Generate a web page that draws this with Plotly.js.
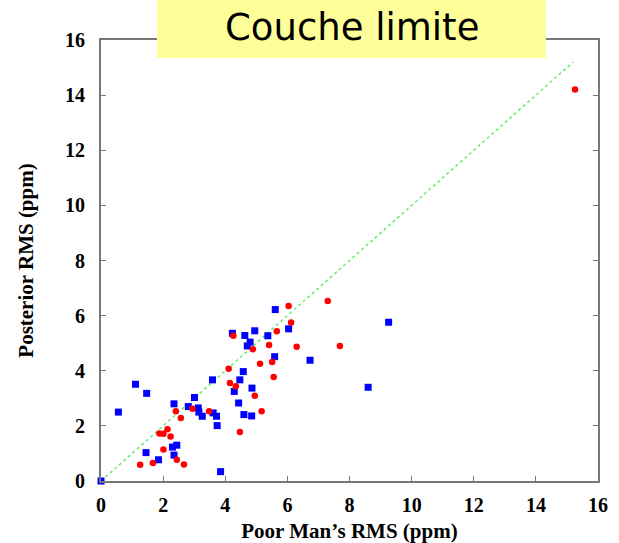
<!DOCTYPE html>
<html>
<head>
<meta charset="utf-8">
<script src="https://cdn.plot.ly/plotly-3.0.1.min.js"></script>
<style>html,body{margin:0;padding:0;background:#fff;}</style>
</head>
<body>
<div id="chart" style="width:619px;height:543px;"></div>
<script>
const blueX = [0, 0.56, 1.11, 1.47, 1.45, 1.85, 2.35, 2.30, 2.44, 2.35, 2.81, 3.01, 3.13, 3.15, 3.26, 3.59, 3.61, 3.72, 3.74, 3.85, 4.23, 4.29, 4.47, 4.58, 4.63, 4.43, 4.60, 4.85, 4.86, 4.71, 4.80, 4.95, 5.37, 5.59, 5.61, 6.04, 6.73, 8.60, 9.26];
const blueY = [0, 2.50, 3.51, 3.18, 1.03, 0.77, 2.80, 1.23, 1.30, 0.94, 2.70, 3.03, 2.65, 2.50, 2.35, 3.67, 2.47, 2.35, 2.01, 0.34, 5.36, 3.25, 3.67, 3.97, 5.28, 2.83, 2.41, 2.36, 3.37, 4.90, 5.04, 5.45, 5.27, 4.51, 6.22, 5.52, 4.38, 3.40, 5.76];
const redX = [1.26, 1.67, 1.88, 2.01, 2.14, 2.24, 2.01, 2.44, 2.67, 2.41, 2.57, 2.94, 3.48, 4.11, 4.15, 4.34, 4.47, 4.26, 4.95, 4.89, 5.12, 5.17, 5.41, 5.51, 5.56, 5.66, 6.04, 6.12, 6.30, 7.30, 7.69, 15.26];
const redY = [0.59, 0.65, 1.72, 1.71, 1.88, 1.61, 1.14, 0.77, 0.60, 2.53, 2.29, 2.62, 2.53, 4.07, 3.56, 3.44, 1.78, 5.27, 3.09, 4.78, 4.25, 2.53, 4.93, 4.32, 3.77, 5.43, 6.35, 5.75, 4.87, 6.53, 4.90, 14.20];
const diagX = [0, 15.2];
const diagY = [0, 15.2];
const tickVals = [0, 2, 4, 6, 8, 10, 12, 14, 16];
const chartTitle = "Couche limite";
const xTitle = "Poor Man\u2019s RMS (ppm)";
const yTitle = "Posterior RMS (ppm)";

const SERIF = "Liberation Serif";

function makeAxis(titleText, standoff, labelStandoff) {
  return {
    range: [0, 16], tickmode: "array", tickvals: tickVals, ticktext: tickVals.map(String),
    showgrid: false, zeroline: false, showline: true, linecolor: "#777", linewidth: 2,
    mirror: "ticks", ticks: "inside", ticklen: 5, tickcolor: "#777", tickwidth: 1,
    ticklabelstandoff: labelStandoff,
    tickfont: {family: SERIF, size: 20, color: "#000", weight: 700},
    title: {text: titleText, font: {family: SERIF, size: 21, color: "#000", weight: 700}, standoff: standoff}
  };
}

const traces = [
  {x: diagX, y: diagY, mode: "lines", line: {color: "rgb(100,235,100)", width: 1.5, dash: "dot"}, hoverinfo: "skip"},
  {x: blueX, y: blueY, mode: "markers", cliponaxis: false, marker: {symbol: "square", size: 7, color: "#0000ff"}},
  {x: redX, y: redY, mode: "markers", cliponaxis: false, marker: {symbol: "circle", size: 6.5, color: "#ff0000"}}
];

const layout = {
  width: 619, height: 543, showlegend: false,
  paper_bgcolor: "#fff", plot_bgcolor: "#fff",
  font: {family: SERIF},
  margin: {l: 101, r: 21, t: 40, b: 62},
  xaxis: makeAxis(xTitle, 8, 5),
  yaxis: makeAxis(yTitle, 26, 10),
  shapes: [{
    type: "rect", xref: "paper", yref: "paper", layer: "above",
    x0: (157 - 101) / 497, x1: (546 - 101) / 497,
    y0: (481 - 58) / 441, y1: (481 + 2) / 441,
    fillcolor: "#ffff99", line: {width: 0}
  }],
  annotations: [{
    text: chartTitle, xref: "paper", yref: "paper", showarrow: false,
    x: (351.5 - 101) / 497, y: (481 - 28) / 441, xanchor: "center", yanchor: "middle",
    font: {family: "DejaVu Sans", size: 37, color: "#000"}
  }]
};

Plotly.newPlot("chart", traces, layout, {displayModeBar: false, staticPlot: true});
</script>
</body>
</html>
